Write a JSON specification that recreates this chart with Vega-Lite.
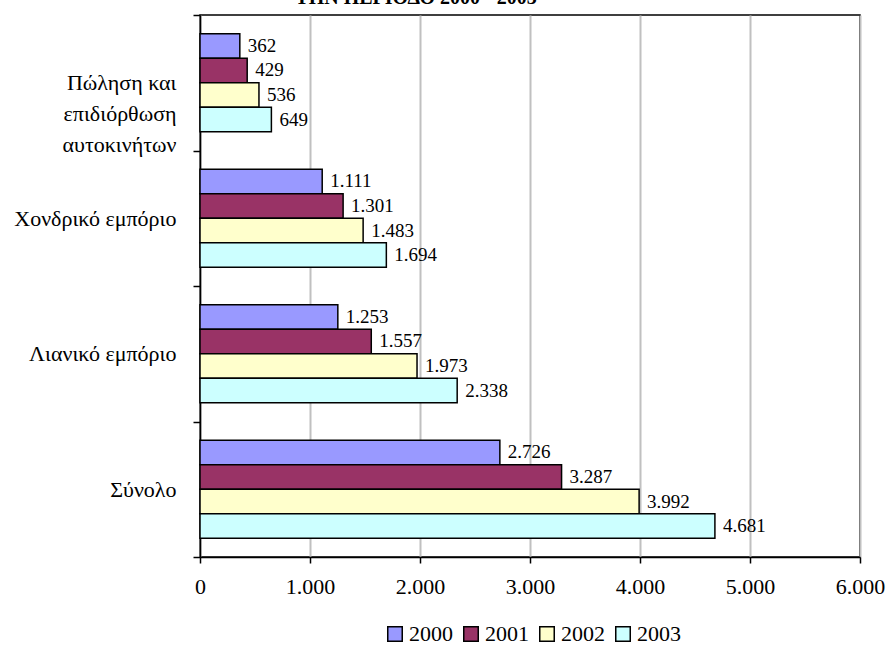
{
  "$schema": "https://vega.github.io/schema/vega-lite/v6.json",
  "width": 660,
  "height": 542,
  "autosize": {"type": "none"},
  "padding": {"left": 200, "top": 15, "right": 29, "bottom": 89},
  "background": "white",
  "title": {
    "text": "ΤΗΝ ΠΕΡΙΟΔΟ 2000 - 2003",
    "font": "Liberation Serif",
    "fontSize": 20,
    "fontWeight": "bold",
    "color": "black",
    "anchor": "middle",
    "frame": "group",
    "dx": -114,
    "baseline": "alphabetic",
    "offset": -20
  },
  "data": {
    "values": [
      {"category": "Πώληση και επιδιόρθωση αυτοκινήτων", "year": "2000", "value": 362},
      {"category": "Πώληση και επιδιόρθωση αυτοκινήτων", "year": "2001", "value": 429},
      {"category": "Πώληση και επιδιόρθωση αυτοκινήτων", "year": "2002", "value": 536},
      {"category": "Πώληση και επιδιόρθωση αυτοκινήτων", "year": "2003", "value": 649},
      {"category": "Χονδρικό εμπόριο", "year": "2000", "value": 1111},
      {"category": "Χονδρικό εμπόριο", "year": "2001", "value": 1301},
      {"category": "Χονδρικό εμπόριο", "year": "2002", "value": 1483},
      {"category": "Χονδρικό εμπόριο", "year": "2003", "value": 1694},
      {"category": "Λιανικό εμπόριο", "year": "2000", "value": 1253},
      {"category": "Λιανικό εμπόριο", "year": "2001", "value": 1557},
      {"category": "Λιανικό εμπόριο", "year": "2002", "value": 1973},
      {"category": "Λιανικό εμπόριο", "year": "2003", "value": 2338},
      {"category": "Σύνολο", "year": "2000", "value": 2726},
      {"category": "Σύνολο", "year": "2001", "value": 3287},
      {"category": "Σύνολο", "year": "2002", "value": 3992},
      {"category": "Σύνολο", "year": "2003", "value": 4681}
    ]
  },
  "encoding": {
    "y": {
      "field": "category",
      "type": "nominal",
      "sort": ["Πώληση και επιδιόρθωση αυτοκινήτων", "Χονδρικό εμπόριο", "Λιανικό εμπόριο", "Σύνολο"],
      "scale": {"paddingInner": 0, "paddingOuter": 0},
      "axis": {
        "title": null,
        "tickBand": "extent",
        "tickSize": 7,
        "tickColor": "black",
        "tickWidth": 1.5,
        "domainColor": "black",
        "domainWidth": 1.5,
        "labelFont": "Liberation Serif",
        "labelFontSize": 22,
        "labelColor": "black",
        "labelPadding": 17,
        "labelLineHeight": 31,
        "labelLimit": 300,
        "labelExpr": "datum.value == 'Πώληση και επιδιόρθωση αυτοκινήτων' ? ['Πώληση και', 'επιδιόρθωση', 'αυτοκινήτων'] : datum.value"
      }
    },
    "yOffset": {
      "field": "year",
      "type": "nominal",
      "sort": ["2000", "2001", "2002", "2003"],
      "scale": {"paddingInner": 0, "paddingOuter": 0.765}
    },
    "x": {
      "field": "value",
      "type": "quantitative",
      "scale": {"domain": [0, 6000], "nice": false},
      "axis": {
        "title": null,
        "values": [0, 1000, 2000, 3000, 4000, 5000, 6000],
        "format": ",d",
        "grid": true,
        "gridColor": "#c0c0c0",
        "gridWidth": 2,
        "tickSize": 6,
        "tickColor": "black",
        "tickWidth": 1.5,
        "domainColor": "black",
        "domainWidth": 1.5,
        "labelFont": "Liberation Serif",
        "labelFontSize": 22,
        "labelColor": "black",
        "labelPadding": 13,
        "labelFlush": false
      }
    }
  },
  "layer": [
    {
      "mark": {"type": "bar", "stroke": "black", "strokeWidth": 1.5},
      "encoding": {
        "color": {
          "field": "year",
          "type": "nominal",
          "scale": {"domain": ["2000", "2001", "2002", "2003"], "range": ["#9999FF", "#993366", "#FFFFCC", "#CCFFFF"]},
          "legend": {
            "title": null,
            "orient": "none",
            "legendX": 184,
            "legendY": 608,
            "direction": "horizontal",
            "symbolType": "square",
            "symbolSize": 210,
            "symbolStrokeColor": "black",
            "symbolStrokeWidth": 1.5,
            "labelFont": "Liberation Serif",
            "labelFontSize": 22,
            "labelColor": "black",
            "labelOffset": 3,
            "columnPadding": 7
          }
        }
      }
    },
    {
      "mark": {"type": "text", "align": "left", "baseline": "middle", "dx": 8, "font": "Liberation Serif", "fontSize": 19, "color": "black"},
      "encoding": {
        "text": {"field": "value", "type": "quantitative", "format": ",d"}
      }
    }
  ],
  "config": {
    "font": "Liberation Serif",
    "locale": {"number": {"decimal": ",", "thousands": ".", "grouping": [3], "currency": ["", " €"]}},
    "view": {"stroke": "black", "strokeWidth": 1.5}
  }
}
